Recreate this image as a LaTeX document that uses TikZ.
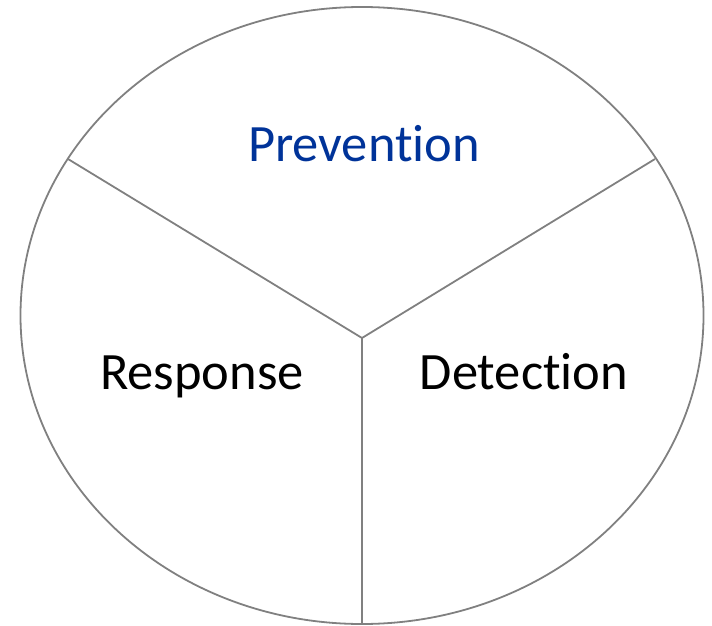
\documentclass[tikz,border=0pt]{standalone}
\usepackage{fontspec}
\setmainfont[Ligatures=NoCommon,Contextuals=NoAlternate]{Carlito}
\usetikzlibrary{shapes.geometric}
\definecolor{linegray}{RGB}{128,128,128}
\definecolor{prevblue}{RGB}{0,51,153}
\begin{document}
\begin{tikzpicture}[x=1pt,y=-1pt,
  outline/.style={draw=linegray,line width=1.8pt},
  label/.style={font=\fontsize{52.5}{60}\selectfont,inner sep=0pt,anchor=base}]
\useasboundingbox (0,0) rectangle (712,626);
\draw[outline] (362,315.5) ellipse [x radius=341.5,y radius=308.5];
\coordinate (hub) at (362,338);
\coordinate (lt) at (68,159);
\coordinate (rt) at (655,159);
\coordinate (bt) at (362,624);
\draw[outline] (hub) -- (lt);
\draw[outline] (hub) -- (rt);
\draw[outline] (hub) -- (bt);
\node[label,text=prevblue] (prev) at (364,161) {Prevention};
\node[label] (resp) at (202,389) {Response};
\node[label] (det) at (524,389) {Detection};
\end{tikzpicture}
\end{document}
